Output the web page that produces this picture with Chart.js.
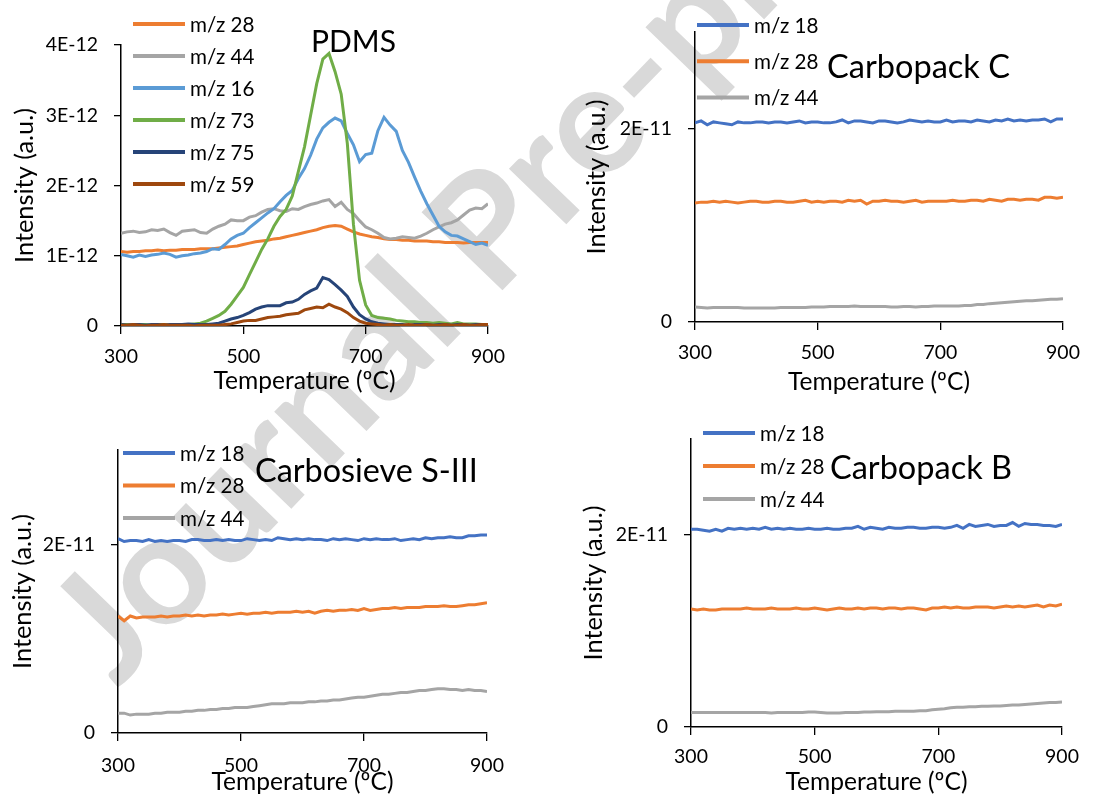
<!DOCTYPE html>
<html><head><meta charset="utf-8">
<script src="https://cdn.jsdelivr.net/npm/chart.js@4.4.1/dist/chart.umd.min.js"></script>
<style>
html,body{margin:0;padding:0;background:#fff;width:1096px;height:794px;overflow:hidden;position:relative}
canvas{position:absolute;left:0;top:0}
#wm{position:absolute;white-space:nowrap;color:#d9d9d9;font-family:Lato;font-weight:bold;line-height:1;transform-origin:50% 50%}
</style></head><body>
<div id="wm">Journal Pre-proof</div>
<canvas id="c1" width="1096" height="900"></canvas>
<canvas id="c2" width="1096" height="900"></canvas>
<canvas id="c3" width="1096" height="900"></canvas>
<canvas id="c4" width="1096" height="900"></canvas>
<script>
// ---------- DATA ----------
const temps = [300,310,320,330,340,350,360,370,380,390,400,410,420,430,440,450,460,470,480,490,500,510,520,530,540,550,560,570,580,590,600,610,620,630,640,650,660,670,680,690,700,710,720,730,740,750,760,770,780,790,800,810,820,830,840,850,860,870,880,890,900];
const xTickValues = [300,500,700,900];
const xTickLabels = ['300','500','700','900'];
const pdmsYTickValues = [0,1,2,3,4];            // units of 1E-12
const pdmsYTickLabels = ['0','1E-12','2E-12','3E-12','4E-12'];
const sorbYTickValues = [0,2];                  // units of 1E-11
const sorbYTickLabels = ['0','2E-11'];

// PDMS (1E-12)
const pdmsMz28 = [1.06,1.05,1.06,1.06,1.07,1.07,1.08,1.07,1.08,1.08, 1.09,1.09,1.09,1.10,1.10,1.10,1.11,1.12,1.13,1.14, 1.16,1.18,1.20,1.21,1.22,1.24,1.25,1.27,1.29,1.31, 1.33,1.35,1.37,1.40,1.42,1.43,1.42,1.38,1.34,1.31, 1.29,1.27,1.26,1.24,1.23,1.23,1.22,1.22,1.21,1.21, 1.21,1.20,1.20,1.19,1.19,1.19,1.18,1.19,1.19,1.19, 1.19];
const pdmsMz44 = [1.32,1.34,1.35,1.33,1.34,1.37,1.36,1.38,1.33,1.29, 1.35,1.36,1.37,1.33,1.32,1.38,1.42,1.45,1.51,1.50, 1.50,1.55,1.57,1.62,1.66,1.67,1.64,1.63,1.67,1.66, 1.70,1.73,1.75,1.78,1.80,1.70,1.76,1.66,1.60,1.50, 1.41,1.37,1.32,1.26,1.24,1.25,1.27,1.26,1.25,1.28, 1.32,1.37,1.41,1.45,1.47,1.51,1.58,1.65,1.68,1.67, 1.74];
const pdmsMz16 = [1.02,1.00,0.98,1.01,0.99,1.01,1.02,1.04,1.02,0.98, 1.00,1.01,1.03,1.04,1.06,1.10,1.09,1.16,1.24,1.29, 1.32,1.40,1.47,1.54,1.61,1.67,1.77,1.86,1.93,2.10, 2.24,2.43,2.66,2.82,2.90,2.96,2.92,2.74,2.58,2.34, 2.44,2.46,2.78,2.97,2.86,2.77,2.50,2.33,2.12,1.92, 1.74,1.58,1.42,1.34,1.29,1.28,1.24,1.20,1.16,1.18, 1.15];
const pdmsMz73 = [0.02,0.02,0.01,0.02,0.02,0.01,0.02,0.02,0.01,0.02, 0.02,0.02,0.03,0.04,0.07,0.11,0.15,0.21,0.31,0.43, 0.55,0.73,0.91,1.09,1.24,1.42,1.56,1.66,1.85,2.20, 2.55,3.00,3.45,3.80,3.88,3.62,3.30,2.60,1.45,0.65, 0.30,0.15,0.12,0.11,0.10,0.08,0.07,0.06,0.06,0.05, 0.05,0.04,0.05,0.04,0.03,0.05,0.03,0.03,0.03,0.02, 0.02];
const pdmsMz75 = [0.02,0.01,0.02,0.02,0.01,0.02,0.02,0.01,0.02,0.02, 0.02,0.03,0.02,0.02,0.02,0.03,0.04,0.07,0.10,0.12, 0.15,0.19,0.24,0.27,0.29,0.29,0.29,0.33,0.34,0.38, 0.45,0.50,0.54,0.69,0.66,0.59,0.51,0.42,0.27,0.16, 0.10,0.06,0.04,0.03,0.02,0.02,0.02,0.01,0.02,0.02, 0.02,0.01,0.02,0.02,0.01,0.02,0.02,0.01,0.02,0.02, 0.02];
const pdmsMz59 = [0.01,0.01,0.02,0.01,0.00,0.01,0.01,0.02,0.01,0.01, 0.01,0.01,0.00,0.01,0.01,0.01,0.01,0.02,0.03,0.05, 0.07,0.08,0.08,0.10,0.12,0.13,0.14,0.16,0.17,0.18, 0.23,0.25,0.27,0.26,0.31,0.27,0.24,0.19,0.12,0.07, 0.04,0.03,0.02,0.01,0.02,0.01,0.01,0.02,0.01,0.01, 0.02,0.01,0.01,0.02,0.01,0.01,0.02,0.01,0.01,0.02, 0.02];

// Carbopack C (1E-11)
const cpcMz18 = [2.06,2.08,2.04,2.07,2.06,2.05,2.04,2.07,2.06,2.06, 2.07,2.07,2.06,2.07,2.07,2.06,2.07,2.08,2.06,2.07, 2.07,2.06,2.06,2.07,2.09,2.06,2.08,2.08,2.07,2.06, 2.08,2.08,2.07,2.06,2.07,2.09,2.08,2.07,2.08,2.07, 2.07,2.09,2.07,2.08,2.08,2.07,2.09,2.08,2.07,2.09, 2.08,2.10,2.08,2.09,2.08,2.09,2.09,2.10,2.07,2.10, 2.10];
const cpcMz28 = [1.23,1.24,1.24,1.25,1.24,1.25,1.24,1.23,1.24,1.25, 1.25,1.24,1.24,1.25,1.25,1.24,1.24,1.25,1.26,1.24, 1.25,1.24,1.25,1.25,1.24,1.26,1.25,1.26,1.22,1.25, 1.25,1.26,1.25,1.25,1.24,1.25,1.26,1.24,1.25,1.25, 1.25,1.25,1.26,1.25,1.25,1.26,1.26,1.25,1.27,1.26, 1.25,1.27,1.27,1.26,1.27,1.27,1.26,1.29,1.29,1.28, 1.29];
const cpcMz44 = [0.155,0.15,0.145,0.15,0.15,0.15,0.15,0.15,0.145,0.145, 0.145,0.145,0.145,0.145,0.15,0.15,0.15,0.15,0.15,0.155, 0.155,0.155,0.16,0.16,0.16,0.16,0.165,0.16,0.16,0.16, 0.16,0.16,0.155,0.155,0.16,0.16,0.155,0.16,0.16,0.165, 0.165,0.165,0.165,0.165,0.17,0.17,0.18,0.18,0.19,0.195, 0.20,0.205,0.21,0.215,0.22,0.22,0.225,0.23,0.235,0.235, 0.24];

// Carbosieve S-III (1E-11)
const csMz18 = [2.06,2.03,2.04,2.04,2.03,2.05,2.03,2.04,2.03,2.04, 2.04,2.03,2.05,2.05,2.04,2.04,2.05,2.04,2.05,2.04, 2.04,2.06,2.05,2.04,2.05,2.04,2.07,2.06,2.05,2.06, 2.05,2.06,2.05,2.05,2.04,2.06,2.05,2.06,2.05,2.04, 2.06,2.05,2.06,2.05,2.05,2.06,2.04,2.05,2.06,2.05, 2.07,2.06,2.07,2.07,2.08,2.07,2.07,2.09,2.09,2.10, 2.10];
const csMz28 = [1.24,1.19,1.24,1.22,1.23,1.23,1.23,1.24,1.23,1.24, 1.24,1.25,1.24,1.25,1.24,1.25,1.25,1.26,1.25,1.26, 1.27,1.26,1.27,1.27,1.28,1.27,1.28,1.28,1.28,1.29, 1.28,1.29,1.27,1.29,1.30,1.29,1.30,1.30,1.31,1.30, 1.32,1.30,1.31,1.32,1.32,1.33,1.32,1.33,1.33,1.33, 1.34,1.34,1.34,1.35,1.34,1.34,1.35,1.36,1.36,1.37, 1.38];
const csMz44 = [0.21,0.21,0.19,0.20,0.20,0.20,0.21,0.21,0.22,0.22, 0.22,0.23,0.23,0.24,0.24,0.25,0.25,0.26,0.26,0.27, 0.27,0.27,0.28,0.29,0.30,0.31,0.31,0.31,0.32,0.32, 0.32,0.33,0.33,0.34,0.34,0.35,0.35,0.36,0.37,0.38, 0.38,0.39,0.40,0.41,0.41,0.42,0.43,0.43,0.44,0.45, 0.45,0.46,0.47,0.47,0.46,0.46,0.45,0.46,0.45,0.45, 0.44];

// Carbopack B (1E-11)
const cpbMz18 = [2.06,2.06,2.05,2.04,2.06,2.04,2.07,2.06,2.07,2.06, 2.07,2.06,2.08,2.06,2.07,2.06,2.07,2.06,2.06,2.07, 2.06,2.06,2.07,2.06,2.06,2.07,2.07,2.09,2.06,2.08, 2.07,2.06,2.08,2.07,2.07,2.08,2.08,2.07,2.07,2.08, 2.08,2.07,2.08,2.10,2.07,2.11,2.09,2.10,2.11,2.09, 2.10,2.10,2.13,2.09,2.12,2.11,2.11,2.10,2.10,2.09, 2.11];
const cpbMz28 = [1.23,1.22,1.23,1.22,1.22,1.23,1.23,1.23,1.23,1.24, 1.23,1.23,1.23,1.24,1.23,1.23,1.23,1.24,1.23,1.23, 1.24,1.23,1.22,1.23,1.24,1.23,1.23,1.24,1.23,1.24, 1.24,1.23,1.24,1.24,1.23,1.24,1.24,1.23,1.22,1.24, 1.24,1.25,1.24,1.25,1.24,1.24,1.25,1.25,1.25,1.24, 1.25,1.26,1.25,1.26,1.25,1.26,1.27,1.25,1.27,1.26, 1.28];
const cpbMz44 = [0.15,0.15,0.15,0.15,0.15,0.15,0.15,0.15,0.15,0.15, 0.15,0.15,0.15,0.145,0.15,0.15,0.15,0.15,0.15,0.155, 0.155,0.15,0.145,0.145,0.145,0.15,0.15,0.15,0.155,0.155, 0.16,0.16,0.16,0.165,0.165,0.165,0.165,0.17,0.17,0.18, 0.185,0.19,0.20,0.205,0.205,0.21,0.21,0.215,0.215,0.22, 0.22,0.225,0.23,0.23,0.235,0.24,0.245,0.25,0.255,0.255, 0.26];

// ---------- STYLE ----------
const FAMILY = 'Lato';
const C_ORANGE='#ED7D31', C_GRAY='#A5A5A5', C_LBLUE='#5B9BD5', C_GREEN='#70AD47', C_DBLUE='#264478', C_BROWN='#9E480E', C_BLUE='#4472C4';
const mctx = document.createElement('canvas').getContext('2d');
function fit(text, width, weight){ mctx.font = (weight||'normal')+' 100px ' + FAMILY; return 100*width/mctx.measureText(text).width; }
const TICK_SIZE = (fit('300',34) + fit('4E-12',52))/2;
const XT_SIZE = fit('Temperature (ºC)',182);
const YT_SIZE = fit('Intensity (a.u.)',155);
const LEG_SIZE = (fit('m/z 28',64) + fit('m/z 18',65))/2;

// watermark
(function(){
  const wm = document.getElementById('wm');
  wm.style.fontSize = fit('Journal Pre-proof', 1210, 'bold').toFixed(1)+'px';
  const w = wm.offsetWidth, h = wm.offsetHeight;
  wm.style.left = (495 - w/2)+'px';
  wm.style.top = (212 - h/2)+'px';
  wm.style.transform = 'rotate(-46deg)';
})();

const decor = {
  id:'decor',
  afterDatasetsDraw(chart, args, o){
    const ctx = chart.ctx; ctx.save();
    const L = o.legend;
    chart.data.datasets.forEach((ds,i)=>{
      const y = L.y + i*L.dy;
      ctx.strokeStyle = ds.borderColor; ctx.lineWidth = 4; ctx.lineCap='butt';
      ctx.beginPath(); ctx.moveTo(L.x, y); ctx.lineTo(L.x+L.len, y); ctx.stroke();
      ctx.fillStyle = '#000'; ctx.font = LEG_SIZE.toFixed(2)+'px '+FAMILY;
      ctx.textBaseline='middle'; ctx.textAlign='left';
      ctx.fillText(ds.label, L.x+L.len+L.gap, y+1);
    });
    const T = o.title;
    ctx.font = fit(T.text, T.w).toFixed(2)+'px '+FAMILY;
    ctx.fillStyle='#000'; ctx.textBaseline='alphabetic'; ctx.textAlign='left';
    ctx.fillText(T.text, T.x, T.y);
    ctx.restore();
  }
};

function makePanel(p){
  const xlh = XT_SIZE*1.2, ylh = YT_SIZE*1.2;
  const YW = p.area.l - (p.yTitleX - ylh/2);
  const XH = p.xTitleY - p.area.b + xlh/2;
  const tlh = TICK_SIZE*1.2;
  const xPad = p.xTickY - p.area.b - 8 - tlh/2;
  new Chart(document.getElementById(p.id), {
    type:'line',
    data:{ datasets: p.series.map((s,i)=>({
      label:s.label, data: temps.map((t,k)=>({x:t, y:s.values[k]})),
      borderColor:s.color, backgroundColor:s.color, borderWidth:3,
      pointRadius:0, tension:0, fill:false, order:-i
    }))},
    options:{
      responsive:false, animation:false, devicePixelRatio:1,
      layout:{padding:{left:p.area.l-YW, right:1096-p.area.r, top:p.area.t, bottom:900-p.area.b-XH}},
      plugins:{legend:{display:false}, tooltip:{enabled:false}, decor:{legend:p.legend, title:p.title}},
      scales:{
        x:{type:'linear', min:300, max:900,
           afterBuildTicks:(s)=>{ s.ticks = xTickValues.map(v=>({value:v})); },
           afterFit:(s)=>{ s.height = XH; },
           ticks:{callback:(v)=>xTickLabels[xTickValues.indexOf(v)], maxRotation:0, autoSkip:false,
                  padding:xPad, color:'#000', font:{family:FAMILY, size:TICK_SIZE}},
           grid:{display:true, drawOnChartArea:false, drawTicks:true, tickLength:8, color:'#000', lineWidth:1.3},
           border:{display:true, color:'#000', width:1.5},
           title:{display:true, text:'Temperature (ºC)', color:'#000', padding:0, font:{family:FAMILY, size:XT_SIZE}}
        },
        y:{type:'linear', min:0, max:p.yMax,
           afterBuildTicks:(s)=>{ s.ticks = p.yTicks.map(v=>({value:v})); },
           afterFit:(s)=>{ s.width = YW; },
           ticks:{callback:(v)=>p.yLabels[p.yTicks.indexOf(v)], padding:16, color:'#000', autoSkip:false,
                  font:{family:FAMILY, size:TICK_SIZE}},
           grid:{display:true, drawOnChartArea:false, drawTicks:true, tickLength:7, color:'#000', lineWidth:1.3},
           border:{display:true, color:'#000', width:1.5},
           title:{display:true, text:'Intensity (a.u.)', color:'#000', padding:0, font:{family:FAMILY, size:YT_SIZE}}
        }
      }
    },
    plugins:[decor]
  });
}

makePanel({id:'c1', area:{l:121,r:488,t:45,b:326}, yMax:4, yTicks:pdmsYTickValues, yLabels:pdmsYTickLabels,
  xTitleY:381, yTitleX:25, xTickY:357,
  title:{text:'PDMS', x:311, y:52, w:85},
  legend:{x:133, y:24, dy:32, len:52, gap:5},
  series:[{label:'m/z 28',values:pdmsMz28,color:C_ORANGE},{label:'m/z 44',values:pdmsMz44,color:C_GRAY},
          {label:'m/z 16',values:pdmsMz16,color:C_LBLUE},{label:'m/z 73',values:pdmsMz73,color:C_GREEN},
          {label:'m/z 75',values:pdmsMz75,color:C_DBLUE},{label:'m/z 59',values:pdmsMz59,color:C_BROWN}]});

makePanel({id:'c2', area:{l:695,r:1063,t:32,b:322}, yMax:3, yTicks:sorbYTickValues, yLabels:sorbYTickLabels,
  xTitleY:382, yTitleX:597, xTickY:353,
  title:{text:'Carbopack C', x:827, y:78, w:183},
  legend:{x:697, y:25, dy:36.3, len:52, gap:5},
  series:[{label:'m/z 18',values:cpcMz18,color:C_BLUE},{label:'m/z 28',values:cpcMz28,color:C_ORANGE},
          {label:'m/z 44',values:cpcMz44,color:C_GRAY}]});

makePanel({id:'c3', area:{l:118,r:487,t:450,b:733}, yMax:3, yTicks:sorbYTickValues, yLabels:sorbYTickLabels,
  xTitleY:782, yTitleX:23, xTickY:766,
  title:{text:'Carbosieve S-III', x:255, y:482, w:223},
  legend:{x:123, y:453, dy:32.5, len:52, gap:5},
  series:[{label:'m/z 18',values:csMz18,color:C_BLUE},{label:'m/z 28',values:csMz28,color:C_ORANGE},
          {label:'m/z 44',values:csMz44,color:C_GRAY}]});

makePanel({id:'c4', area:{l:691,r:1062,t:439,b:727}, yMax:3, yTicks:sorbYTickValues, yLabels:sorbYTickLabels,
  xTitleY:782, yTitleX:594, xTickY:757,
  title:{text:'Carbopack B', x:830, y:479, w:182},
  legend:{x:703, y:433, dy:33, len:52, gap:5},
  series:[{label:'m/z 18',values:cpbMz18,color:C_BLUE},{label:'m/z 28',values:cpbMz28,color:C_ORANGE},
          {label:'m/z 44',values:cpbMz44,color:C_GRAY}]});
</script>
</body></html>
